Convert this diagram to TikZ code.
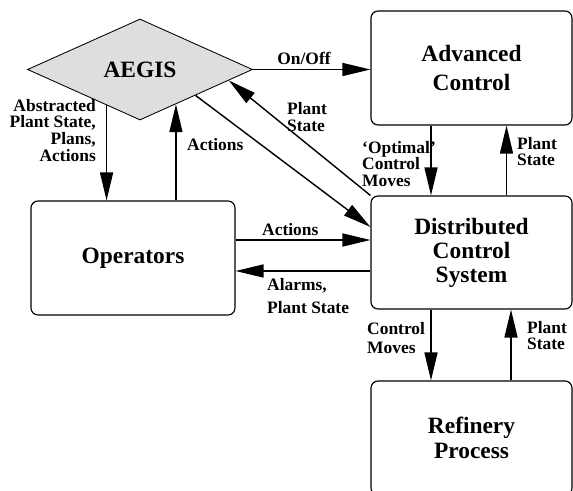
\documentclass[tikz,border=0pt]{standalone}
\usepackage{fontspec}
\setmainfont{Liberation Serif}
\usepackage{xcolor}
\usepackage{tikz}
\usetikzlibrary{shapes,arrows.meta,positioning}

\tikzset{
    block/.style={
        draw,
        line width=0.4mm,
        rounded corners=7bp,
        minimum width=201bp,
        minimum height=114bp,
        inner sep=0,
        align=center
    },
    flow/.style={
        -{Triangle[length=28bp,width=13bp]},
        line width=0.5mm
    },
    tag/.style={
        inner sep=0,
        font=\fontsize{17.5}{16.5}\selectfont\bfseries
    }
}

\begin{document}
\begin{tikzpicture}[x=1bp,y=-1bp]
                \useasboundingbox (0,0) rectangle (573,491);
                \clip (0,0) rectangle (573,491);

                \node[
                    diamond,
                    draw,
                    line width=0.3mm,
                    fill=black!13,
                    minimum width=225bp,
                    minimum height=101bp,
                    inner sep=0,
                    font=\fontsize{23.5}{25}\selectfont\bfseries
                    ] (aegis) at (140,69.5) {AEGIS};

                \node[
                    block,
                    font=\fontsize{23.5}{29}\selectfont\bfseries
                    ] (adv) at (471.5,68) {Advanced\\Control};

                \node[
                    block,
                    minimum height=113bp,
                    font=\fontsize{23.5}{24}\selectfont\bfseries
                    ] (dcs) at (471.5,252.5) {Distributed\\Control\\System};

                \node[
                    block,
                    minimum width=204bp,
                    font=\fontsize{23.5}{25}\selectfont\bfseries
                    ] (ops) at (133,258) {Operators};

                \node[
                    block,
                    font=\fontsize{23.5}{25}\selectfont\bfseries
                    ] (ref) at (471.5,438) {Refinery\\Process};

                \coordinate (opsact) at ([yshift=18bp]ops.east);
                \coordinate (dcsalarm) at ([yshift=-18.5bp]dcs.west);

                \draw[flow] (aegis.east) -- (aegis.east -| adv.west);
                \draw[flow] (aegis.227) -- (aegis.227 |- ops.north);
                \draw[flow] (ops.north -| aegis.316) -- (aegis.316);
                \draw[flow] (aegis.335) -- ([yshift=25.5bp]dcs.west);
                \draw[flow] (dcs.north west) -- (aegis.353);

                \draw[flow] ([xshift=-40.5bp]adv.south) -- ([xshift=-40.5bp]dcs.north);
                \draw[flow] ([xshift=35bp]dcs.north) -- ([xshift=35bp]adv.south);

                \draw[flow] (opsact) -- (opsact -| dcs.west);
                \draw[flow] (dcsalarm) -- (dcsalarm -| ops.east);

                \draw[flow] ([xshift=-40.5bp]dcs.south) -- ([xshift=-40.5bp]ref.north);
                \draw[flow] ([xshift=39.5bp]ref.north) -- ([xshift=39.5bp]dcs.south);

                \node[tag, anchor=base] (onoff) at (304,65) {On/Off};
                \node[
                    tag,
                    align=right,
                    anchor=east,
                    font=\fontsize{17.5}{17}\selectfont\bfseries
                    ] (abstracted) at (96,130.5) {Abstracted\\Plant State,\\Plans,\\Actions};
                \node[tag, anchor=base west] (actaegis) at (187,150.7) {Actions};
                \node[tag, align=left, anchor=west] (stateaegis) at (287,117) {Plant\\State};
                \node[tag, align=left, anchor=west] (optimal) at (362,164) {‘Optimal’\\Control\\Moves};
                \node[tag, align=left, anchor=west] (stateadv) at (517,151.5) {Plant\\State};
                \node[tag, anchor=base west] (actdcs) at (262,235.5) {Actions};
                \node[
                    tag,
                    align=left,
                    anchor=west,
                    font=\fontsize{17.5}{24}\selectfont\bfseries
                    ] (alarms) at (267,296) {Alarms,\\Plant State};
                \node[
                    tag,
                    align=left,
                    anchor=west,
                    font=\fontsize{17.5}{19}\selectfont\bfseries
                    ] (ctlmoves) at (367,338) {Control\\Moves};
                \node[tag, align=left, anchor=west] (stateref) at (527,335.5) {Plant\\State};

            \end{tikzpicture}
\end{document}
